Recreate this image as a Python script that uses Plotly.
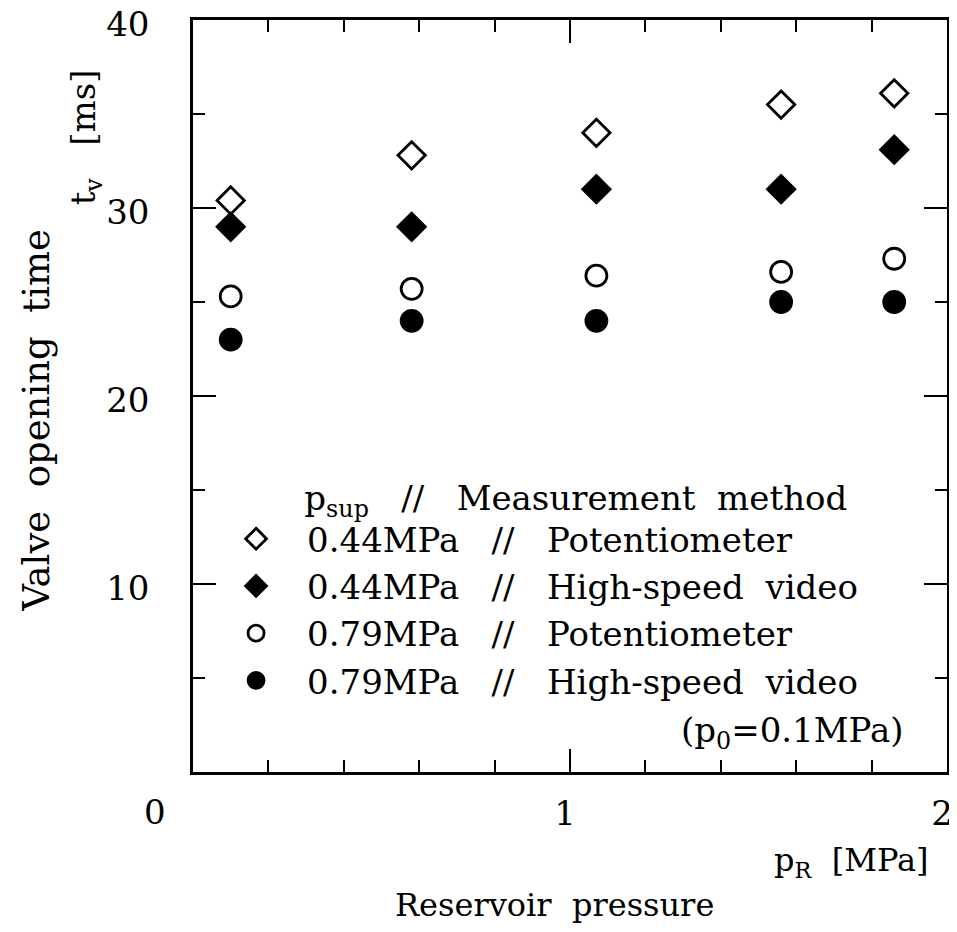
import plotly.graph_objects as go

# ---- data ----
reservoir_pressure = [0.10, 0.58, 1.07, 1.56, 1.86]          # pR [MPa]
t_044_potentiometer = [30.4, 32.8, 34.0, 35.5, 36.1]          # tv [ms]
t_044_video = [29.0, 29.0, 31.0, 31.0, 33.1]
t_079_potentiometer = [25.3, 25.7, 26.4, 26.6, 27.3]
t_079_video = [23.0, 24.0, 24.0, 25.0, 25.0]

series_names = [
    "0.44MPa\u00a0\u00a0\u00a0//\u00a0\u00a0\u00a0Potentiometer",
    "0.44MPa\u00a0\u00a0\u00a0//\u00a0\u00a0\u00a0High-speed\u00a0\u00a0video",
    "0.79MPa\u00a0\u00a0\u00a0//\u00a0\u00a0\u00a0Potentiometer",
    "0.79MPa\u00a0\u00a0\u00a0//\u00a0\u00a0\u00a0High-speed\u00a0\u00a0video",
]
series_values = [t_044_potentiometer, t_044_video, t_079_potentiometer, t_079_video]
series_symbols = ["diamond-open", "diamond", "circle-open", "circle"]

x_tickvals = [1, 2]
x_ticktext = ["1", "2"]
y_tickvals = [10, 20, 30, 40]
y_ticktext = ["10", "20", "30", "40"]

FONT = "DejaVu Serif"

fig = go.Figure()
for name, vals, sym in zip(series_names, series_values, series_symbols):
    fig.add_trace(go.Scatter(
        x=reservoir_pressure, y=vals, mode="markers", name=name,
        marker=dict(symbol=sym, size=21, color="black",
                    line=dict(width=2.8, color="black")),
    ))

axis_common = dict(
    showline=True, linecolor="black", linewidth=2.5, mirror="allticks",
    ticks="inside", ticklen=23, tickwidth=2, tickcolor="black",
    showgrid=False, zeroline=False, automargin=False,
    ticklabeloverflow="allow",
    tickfont=dict(family=FONT, size=34, color="black"),
)

fig.update_xaxes(range=[0, 2], tickvals=x_tickvals, ticktext=x_ticktext,
                 minor=dict(dtick=0.2, ticks="inside", ticklen=12, tickwidth=2, tickcolor="black"),
                 ticklabelstandoff=9, ticklabelshift=-5, **axis_common)
fig.update_yaxes(range=[0, 40], tickvals=y_tickvals, ticktext=y_ticktext,
                 minor=dict(dtick=5, ticks="inside", ticklen=12, tickwidth=2, tickcolor="black"),
                 ticklabelstandoff=34, ticklabelshift=4, **axis_common)

annotations = [
    dict(text="0", xref="x", yref="y", x=0, y=0, xshift=-38, yshift=-40,
         xanchor="center", yanchor="middle",
         showarrow=False, font=dict(family=FONT, size=34, color="black")),
    dict(text="Valve\u00a0\u00a0opening\u00a0\u00a0time", xref="paper", yref="paper",
         x=0, y=0.467, xshift=-156, xanchor="center", yanchor="middle",
         textangle=-90, showarrow=False,
         font=dict(family=FONT, size=37, color="black")),
    dict(text="t<sub>v</sub>\u00a0\u00a0\u00a0[ms]", xref="paper", yref="paper",
         x=0, y=0.844, xshift=-108, xanchor="center", yanchor="middle",
         textangle=-90, showarrow=False,
         font=dict(family=FONT, size=34, color="black")),
    dict(text="p<sub>R</sub>\u00a0\u00a0[MPa]", xref="paper", yref="paper",
         x=0.874, y=-0.12, xanchor="center", yanchor="middle", showarrow=False,
         font=dict(family=FONT, size=32, color="black")),
    dict(text="Reservoir\u00a0\u00a0pressure", xref="paper", yref="paper",
         x=0.479, y=-0.177, xanchor="center", yanchor="middle", showarrow=False,
         font=dict(family=FONT, size=32, color="black")),
    dict(text="(p<sub>0</sub>=0.1MPa)", xref="paper", yref="paper",
         x=0.944, y=0.053, xanchor="right", yanchor="middle", showarrow=False,
         font=dict(family=FONT, size=34, color="black")),
]

fig.update_layout(
    width=957, height=932,
    margin=dict(l=185, r=18, t=12, b=168, autoexpand=False),
    paper_bgcolor="white", plot_bgcolor="white",
    font=dict(family=FONT, color="black"),
    annotations=annotations,
    showlegend=True,
    legend=dict(
        x=0.016, y=0.407, xanchor="left", yanchor="top",
        bgcolor="rgba(0,0,0,0)", borderwidth=0,
        itemwidth=92, tracegroupgap=0,
        font=dict(family=FONT, size=34, color="black"),
        title=dict(text="\u00a0" * 9 + "p<sub>sup</sub>\u00a0\u00a0\u00a0//\u00a0\u00a0\u00a0Measurement\u00a0\u00a0method",
                   font=dict(family=FONT, size=34, color="black")),
    ),
)

fig.write_html("out.html")
